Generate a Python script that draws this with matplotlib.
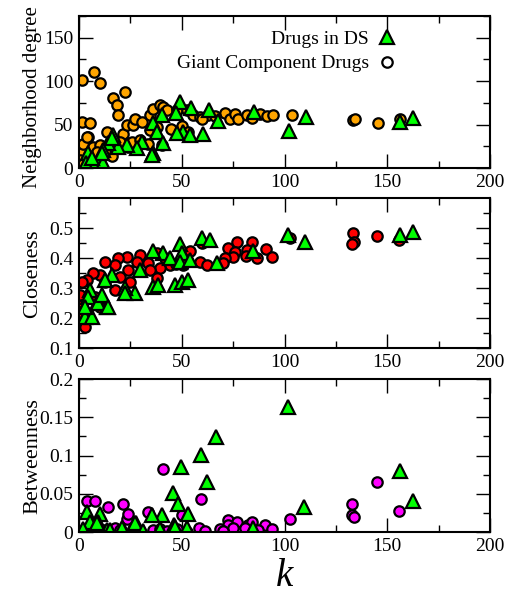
import matplotlib
matplotlib.use('Agg')
import matplotlib.pyplot as plt
from matplotlib.ticker import MultipleLocator, FixedLocator, FormatStrFormatter
from matplotlib.lines import Line2D

plt.rcParams['font.family'] = ['Liberation Serif', 'DejaVu Serif']

#%% data
# Neighborhood degree - giant component drugs (circles)
k_nd_gc = [1.3, 7.5, 10.2, 22.4, 16.4, 18.3, 19.1, 1.3, 5.4, 4.5, 13.5, 21.6, 23.2, 26.4,
           27.3, 30.5, 34.5, 36.2, 39.4, 41, 42.7, 47.5, 52.4, 55.6, 58.9, 62.9, 71, 73.5,
           75.9, 77.5, 81.6, 84, 88.1, 91.3, 94.5, 103.5, 133.5, 134.3, 145.3, 156.2,
           1.3, 2.1, 3.7, 7, 10.2, 8.6, 15.9, 17.5, 24, 20, 25.6, 29.7, 33.7, 34.5, 37.8,
           40.2, 0.5, 2.1, 5.4, 12.7, 45, 50, 53, 60, 66]
nd_gc = [101.8, 110.6, 97.9, 87.5, 80.6, 72.2, 60.6, 52.9, 51.7, 35.6, 41.3, 39.5, 49.1, 49.1,
         56.8, 52.9, 60.6, 68.4, 72.2, 70.2, 66.4, 67.2, 66.4, 60.6, 58.7, 60.6, 63.3, 56.8,
         62.6, 56.8, 60.6, 58.0, 62.6, 59.5, 60.6, 60.6, 54.8, 56.8, 52.2, 56.8,
         18.2, 27.9, 35.6, 24, 26, 18.2, 14.4, 24, 24, 29.8, 29.8, 31.8, 27.9, 43.3, 47.1,
         26, 8.7, 4.8, 8.7, 20, 45, 48, 42, 57, 60]
# Neighborhood degree - drugs in DS (triangles)
k_nd_ds = [49.1, 54.3, 63.3, 85.3, 110.5, 102.3, 156.2, 162.7, 67.8, 60.5, 50.5, 54, 47.5,
           47.2, 40.2, 36.2, 37.8, 41, 36.2, 30.5, 28, 23.2, 19.1, 16.7, 14.3, 11.8, 10.2,
           5.4, 4.5, 3.4, 7.8, 11.8, 15.9, 35.3, 11, 6.1]
nd_ds = [76.3, 68.7, 66.7, 64.8, 58.3, 42.6, 52.6, 57.2, 54.5, 38.7, 41, 38, 40,
         62.9, 61, 51.4, 41.8, 29, 17.6, 30.3, 22.6, 26.5, 24.5, 38, 28.4, 20.7, 9.2,
         11.2, 16.9, 5.4, 3.5, 5.4, 34.2, 15, 16.9, 11.2]

# Closeness - giant component drugs
k_cl_gc = [133.2, 134, 132.7, 144.9, 155.9, 102.7, 59.7, 84, 77, 81.6, 72.4, 75.9, 81.1, 86.5,
           90.9, 93.8, 75.1, 71, 70.2, 58.9, 62.1, 54, 50.7, 44.3, 39.4, 37.8, 33.7, 34.5,
           37.8, 29.7, 28, 23.2, 24, 19.1, 17.5, 12.7, 20, 17.5, 24.8, 10.2, 7, 3.7, 1.3,
           0.5, 1.3, 0.5, 2.9, 3.7, 7.8, 10.2, 12.7, 47, 52, 42]
cl_gc = [0.484, 0.456, 0.447, 0.473, 0.462, 0.467, 0.451, 0.456, 0.453, 0.428, 0.434, 0.421,
         0.408, 0.401, 0.431, 0.403, 0.403, 0.401, 0.384, 0.389, 0.378, 0.423, 0.378, 0.378,
         0.367, 0.417, 0.384, 0.362, 0.334, 0.412, 0.389, 0.406, 0.362, 0.401, 0.378, 0.389,
         0.339, 0.295, 0.323, 0.345, 0.351, 0.328, 0.323, 0.278, 0.245, 0.223, 0.173, 0.217,
         0.273, 0.239, 0.322, 0.38, 0.39, 0.40]
# Closeness - drugs in DS
k_cl_ds = [162.7, 156.2, 101.9, 109.9, 60, 63.7, 84.8, 67, 49.1, 50, 41, 36.2, 44.3, 49.1,
           54, 46.7, 50, 53.2, 36.2, 38.6, 29.7, 27.3, 22.4, 22.4, 15.9, 12.7, 13.5, 8.6,
           5.4, 4.5, 2.9, 6.1, 2.9, 9.4, 11, 14.3]
cl_ds = [0.489, 0.478, 0.477, 0.454, 0.469, 0.462, 0.423, 0.384, 0.448, 0.417, 0.417, 0.423,
         0.401, 0.389, 0.395, 0.312, 0.323, 0.328, 0.306, 0.312, 0.362, 0.284, 0.301, 0.284,
         0.345, 0.328, 0.239, 0.251, 0.295, 0.273, 0.206, 0.206, 0.239, 0.251, 0.278, 0.239]

# Betweenness - giant component drugs
k_bt_gc = [41, 59.4, 144.9, 132.7, 132.7, 133.8, 155.9, 102.7, 3.7, 7.7, 14.3, 21.2, 23.2,
           24, 33.7, 72.4, 77, 72.6, 82.4, 84, 90.5, 93.8, 58.5, 61.3, 52.4, 68.6, 75.1,
           80.8, 0, 50, 0.5, 1.3, 2.1, 5.4, 7, 10.2, 12.7, 15.9, 17.5, 20, 26.4, 29.7,
           36.2, 39.4, 42.7, 47.5, 87, 70]
bt_gc = [0.083, 0.044, 0.065, 0.037, 0.022, 0.020, 0.028, 0.017, 0.041, 0.041, 0.033, 0.037,
         0.017, 0.024, 0.026, 0.016, 0.013, 0.009, 0.009, 0.014, 0.010, 0.004, 0.005, 0.002,
         0.000, 0.004, 0.006, 0.005, 0.001, 0.022, 0.001, 0.002, 0.001, 0.003, 0.002, 0.004,
         0.003, 0.002, 0.005, 0.003, 0.004, 0.002, 0.003, 0.004, 0.002, 0.004, 0.003, 0.002]
# Betweenness - drugs in DS
k_bt_ds = [101.9, 66.5, 59.4, 49.6, 62.4, 156.2, 162.7, 109.5, 45.9, 48.3, 53.2, 40.5, 35.3,
           3.7, 10.2, 5.4, 9.4, 27.7, 46.4, 84.8, 1.8, 13.5, 21.6, 39.4, 52.4, 8.6, 20.8,
           27.3, 46.7, 15, 31]
bt_ds = [0.164, 0.124, 0.101, 0.085, 0.065, 0.080, 0.041, 0.033, 0.051, 0.037, 0.024, 0.023,
         0.022, 0.027, 0.024, 0.014, 0.014, 0.012, 0.009, 0.005, 0.004, 0.003, 0.004, 0.004,
         0.005, 0.012, 0.005, 0.012, 0.007, 0.003, 0.002]

#%% figure
fig = plt.figure(figsize=(5.07, 5.95), dpi=100)
left, width = 0.1558, 0.8107
ax1 = fig.add_axes([left, 0.7176, width, 0.2555])
ax2 = fig.add_axes([left, 0.4143, width, 0.2524])
ax3 = fig.add_axes([left, 0.1054, width, 0.2576])

circ = dict(linestyle='none', marker='o', markersize=7.5, markeredgecolor='black',
            markeredgewidth=1.6)
tri = dict(linestyle='none', marker='^', markersize=10.5, markeredgecolor='black',
           markeredgewidth=1.6, markerfacecolor='#00ff00')

ax1.plot(k_nd_gc, nd_gc, markerfacecolor='#ffa500', **circ)
ax1.plot(k_nd_ds, nd_ds, **tri)
ax2.plot(k_cl_gc, cl_gc, markerfacecolor='#ff0000', **circ)
ax2.plot(k_cl_ds, cl_ds, **tri)
ax3.plot(k_bt_gc, bt_gc, markerfacecolor='#ff00ff', **circ)
ax3.plot(k_bt_ds, bt_ds, **tri)

ax1.set_ylim(0, 175)
ax1.yaxis.set_major_locator(FixedLocator([0, 50, 100, 150]))
ax1.yaxis.set_minor_locator(FixedLocator([25, 75, 125, 175]))
ax1.set_ylabel('Neighborhood degree', fontsize=15)

ax2.set_ylim(0.1, 0.6)
ax2.yaxis.set_major_locator(FixedLocator([0.1, 0.2, 0.3, 0.4, 0.5]))
ax2.yaxis.set_minor_locator(FixedLocator([0.15, 0.25, 0.35, 0.45, 0.55]))
ax2.yaxis.set_major_formatter(FormatStrFormatter('%g'))
ax2.set_ylabel('Closeness', fontsize=16)

ax3.set_ylim(0, 0.2)
ax3.yaxis.set_major_locator(MultipleLocator(0.05))
ax3.yaxis.set_minor_locator(MultipleLocator(0.025))
ax3.yaxis.set_major_formatter(FormatStrFormatter('%g'))
ax3.set_ylabel('Betweenness', fontsize=16)
ax3.set_xlabel('k', fontsize=28, fontstyle='italic', labelpad=2)

for ax in [ax1, ax2, ax3]:
    ax.set_xlim(0, 200)
    ax.xaxis.set_major_locator(MultipleLocator(50))
    ax.xaxis.set_minor_locator(MultipleLocator(25))
    ax.tick_params(which='both', direction='in', top=True, right=True, labelsize=14, pad=4)
    ax.tick_params(which='major', length=10, width=1)
    ax.tick_params(which='minor', length=5, width=1)
    for s in ax.spines.values():
        s.set_linewidth(1.5)
    ax.yaxis.set_label_coords(-0.09, 0.5)
ax1.yaxis.set_label_coords(-0.09, 0.47)

h_ds = Line2D([], [], **tri)
h_gc = Line2D([], [], markerfacecolor='white', **circ)
ax1.legend([h_ds, h_gc], ['Drugs in DS', 'Giant Component Drugs'], loc='upper right',
           bbox_to_anchor=(0.805, 0.995), markerfirst=False, frameon=False, fontsize=14,
           handlelength=1.0, handletextpad=0.4, labelspacing=0.35, borderpad=0.2)

plt.savefig('out.png', dpi=100)
